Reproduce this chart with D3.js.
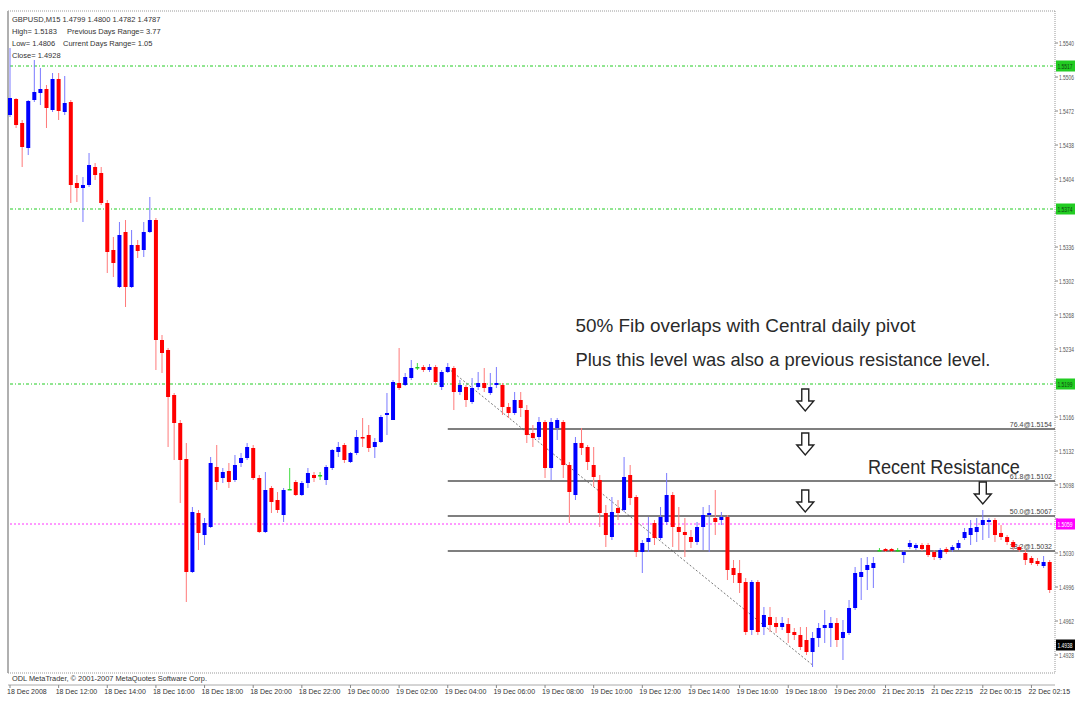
<!DOCTYPE html>
<html>
<head>
<meta charset="utf-8">
<script src="https://cdn.jsdelivr.net/npm/d3@7"></script>
<style>
  body { margin: 0; background: #fff; }
  svg { display: block; }
  text { font-family: "Liberation Sans", Arial, sans-serif; }
</style>
</head>
<body>
<script>
// GBPUSD M15 bars, [open, high, low, close]
const candles = [
  [1.5468,1.5535,1.5466,1.5485],[1.5484,1.5485,1.5455,1.5458],[1.5460,1.5463,1.5416,1.5436],[1.5435,1.5483,1.5428,1.5482],
  [1.5483,1.5523,1.5481,1.5491],[1.5490,1.5515,1.5478,1.5494],[1.5494,1.5498,1.5455,1.5475],[1.5473,1.5510,1.5471,1.5504],
  [1.5504,1.5510,1.5463,1.5472],[1.5471,1.5507,1.5468,1.5480],[1.5481,1.5483,1.5380,1.5398],[1.5400,1.5408,1.5381,1.5395],
  [1.5395,1.5406,1.5361,1.5398],[1.5398,1.5430,1.5396,1.5418],[1.5416,1.5420,1.5403,1.5408],[1.5410,1.5416,1.5378,1.5380],
  [1.5380,1.5383,1.5310,1.5331],[1.5333,1.5346,1.5306,1.5320],[1.5296,1.5361,1.5295,1.5348],[1.5351,1.5363,1.5276,1.5296],
  [1.5296,1.5353,1.5295,1.5338],[1.5338,1.5343,1.5325,1.5332],[1.5333,1.5361,1.5326,1.5351],[1.5351,1.5386,1.5350,1.5363],
  [1.5363,1.5365,1.5213,1.5243],[1.5243,1.5248,1.5210,1.5230],[1.5233,1.5235,1.5136,1.5186],[1.5188,1.5190,1.5123,1.5160],
  [1.5160,1.5163,1.5080,1.5123],[1.5124,1.5140,1.4981,1.5011],[1.5011,1.5076,1.5010,1.5071],[1.5070,1.5073,1.5033,1.5050],
  [1.5048,1.5065,1.5038,1.5060],[1.5056,1.5126,1.5055,1.5120],[1.5116,1.5138,1.5093,1.5101],[1.5105,1.5115,1.5100,1.5111],
  [1.5112,1.5120,1.5095,1.5101],[1.5103,1.5128,1.5101,1.5118],[1.5120,1.5130,1.5116,1.5125],[1.5125,1.5140,1.5123,1.5136],
  [1.5135,1.5138,1.5103,1.5105],[1.5105,1.5108,1.5050,1.5051],[1.5051,1.5111,1.5050,1.5093],[1.5095,1.5097,1.5070,1.5081],
  [1.5083,1.5091,1.5070,1.5073],[1.5068,1.5095,1.5061,1.5093],[1.5094,1.5115,1.5093,1.5094],[1.5101,1.5103,1.5087,1.5088],
  [1.5088,1.5102,1.5087,1.5100],[1.5100,1.5115,1.5095,1.5110],[1.5108,1.5111,1.5101,1.5105],[1.5108,1.5111,1.5103,1.5108],
  [1.5103,1.5118,1.5098,1.5116],[1.5115,1.5134,1.5113,1.5133],[1.5131,1.5141,1.5126,1.5136],[1.5138,1.5140,1.5120,1.5123],
  [1.5121,1.5131,1.5120,1.5130],[1.5130,1.5153,1.5128,1.5146],[1.5146,1.5165,1.5136,1.5145],[1.5148,1.5158,1.5131,1.5135],
  [1.5136,1.5145,1.5125,1.5141],[1.5141,1.5168,1.5140,1.5166],[1.5168,1.5190,1.5148,1.5170],[1.5163,1.5203,1.5163,1.5201],
  [1.5200,1.5235,1.5193,1.5195],[1.5198,1.5210,1.5197,1.5206],[1.5205,1.5223,1.5203,1.5215],[1.5216,1.5220,1.5213,1.5216],
  [1.5216,1.5218,1.5211,1.5213],[1.5213,1.5219,1.5211,1.5216],[1.5216,1.5218,1.5199,1.5201],[1.5196,1.5213,1.5193,1.5211],
  [1.5211,1.5220,1.5210,1.5216],[1.5215,1.5217,1.5173,1.5191],[1.5191,1.5203,1.5188,1.5198],[1.5196,1.5198,1.5176,1.5183],
  [1.5181,1.5205,1.5179,1.5195],[1.5196,1.5211,1.5193,1.5200],[1.5200,1.5215,1.5191,1.5195],[1.5190,1.5210,1.5188,1.5196],
  [1.5198,1.5216,1.5195,1.5200],[1.5198,1.5200,1.5168,1.5176],[1.5176,1.5180,1.5165,1.5170],[1.5170,1.5191,1.5168,1.5183],
  [1.5183,1.5191,1.5166,1.5175],[1.5173,1.5178,1.5140,1.5148],[1.5150,1.5158,1.5136,1.5145],[1.5146,1.5166,1.5143,1.5161],
  [1.5161,1.5163,1.5105,1.5115],[1.5115,1.5165,1.5103,1.5161],[1.5155,1.5165,1.5143,1.5163],[1.5161,1.5163,1.5105,1.5118],
  [1.5118,1.5121,1.5060,1.5091],[1.5088,1.5146,1.5083,1.5140],[1.5140,1.5155,1.5128,1.5135],[1.5136,1.5138,1.5113,1.5121],
  [1.5118,1.5136,1.5096,1.5106],[1.5103,1.5108,1.5056,1.5070],[1.5070,1.5078,1.5036,1.5048],[1.5046,1.5086,1.5043,1.5071],
  [1.5075,1.5083,1.5063,1.5070],[1.5073,1.5126,1.5071,1.5106],[1.5108,1.5118,1.5078,1.5085],[1.5086,1.5088,1.5026,1.5031],
  [1.5031,1.5043,1.5010,1.5040],[1.5041,1.5066,1.5031,1.5045],[1.5060,1.5063,1.5038,1.5045],[1.5045,1.5076,1.5043,1.5066],
  [1.5061,1.5110,1.5058,1.5088],[1.5088,1.5091,1.5036,1.5056],[1.5056,1.5076,1.5033,1.5051],[1.5051,1.5065,1.5026,1.5048],
  [1.5046,1.5053,1.5035,1.5041],[1.5041,1.5061,1.5038,1.5056],[1.5056,1.5076,1.5033,1.5068],[1.5068,1.5078,1.5031,1.5070],
  [1.5065,1.5093,1.5048,1.5061],[1.5063,1.5071,1.5058,1.5066],[1.5066,1.5068,1.5003,1.5013],[1.5015,1.5023,1.5000,1.5008],
  [1.5010,1.5023,1.4990,1.5000],[1.5001,1.5005,1.4948,1.4951],[1.4953,1.5003,1.4948,1.5001],[1.5001,1.5003,1.4948,1.4951],
  [1.4956,1.4976,1.4948,1.4968],[1.4966,1.4976,1.4951,1.4958],[1.4960,1.4966,1.4950,1.4956],[1.4956,1.4966,1.4953,1.4960],
  [1.4959,1.4965,1.4940,1.4950],[1.4951,1.4955,1.4943,1.4948],[1.4948,1.4956,1.4933,1.4936],[1.4943,1.4956,1.4928,1.4931],
  [1.4931,1.4951,1.4916,1.4945],[1.4945,1.4960,1.4936,1.4955],[1.4955,1.4973,1.4940,1.4958],[1.4955,1.4966,1.4936,1.4960],
  [1.4960,1.4965,1.4936,1.4943],[1.4945,1.4963,1.4923,1.4951],[1.4950,1.4983,1.4948,1.4975],[1.4975,1.5016,1.4973,1.5010],
  [1.5006,1.5025,1.4983,1.5011],[1.5013,1.5026,1.4993,1.5018],[1.5015,1.5026,1.4995,1.5020],[1.5033,1.5035,1.5031,1.5033],
  [1.5034,1.5035,1.5031,1.5032],[1.5034,1.5035,1.5031,1.5032],[1.5033,1.5035,1.5031,1.5033],[1.5028,1.5033,1.5020,1.5031],
  [1.5036,1.5043,1.5034,1.5040],[1.5035,1.5040,1.5033,1.5038],[1.5038,1.5040,1.5032,1.5034],[1.5038,1.5040,1.5026,1.5028],
  [1.5031,1.5033,1.5023,1.5026],[1.5025,1.5035,1.5023,1.5033],[1.5034,1.5036,1.5029,1.5031],[1.5033,1.5038,1.5031,1.5036],
  [1.5035,1.5043,1.5033,1.5040],[1.5045,1.5055,1.5043,1.5051],[1.5048,1.5063,1.5038,1.5055],[1.5051,1.5065,1.5041,1.5056],
  [1.5058,1.5073,1.5043,1.5063],[1.5061,1.5065,1.5045,1.5063],[1.5063,1.5065,1.5041,1.5048],[1.5050,1.5058,1.5043,1.5046],
  [1.5046,1.5048,1.5038,1.5041],[1.5041,1.5043,1.5033,1.5036],[1.5036,1.5038,1.5031,1.5033],[1.5030,1.5033,1.5018,1.5023],
  [1.5025,1.5027,1.5018,1.5020],[1.5022,1.5025,1.5017,1.5019],[1.5017,1.5027,1.5015,1.5021],[1.5021,1.5023,1.4990,1.4993]
];

const timeLabels = ["18 Dec 2008","18 Dec 12:00","18 Dec 14:00","18 Dec 16:00","18 Dec 18:00","18 Dec 20:00",
  "18 Dec 22:00","19 Dec 00:00","19 Dec 02:00","19 Dec 04:00","19 Dec 06:00","19 Dec 08:00","19 Dec 10:00",
  "19 Dec 12:00","19 Dec 14:00","19 Dec 16:00","19 Dec 18:00","19 Dec 20:00","21 Dec 20:15","21 Dec 22:15",
  "22 Dec 00:15","22 Dec 02:15"];
const barsPerLabel = 8;

const priceTicks = d3.range(19).map(k => 1.5540 - k * 0.0034);

const pivotLevels = [1.5517, 1.5374, 1.5199];
const centralPivot = 1.5059;
const lastPrice = 1.4938;

const fibLevels = [["76.4", 1.5154], ["61.8", 1.5102], ["50.0", 1.5067], ["38.2", 1.5032]];
const fibStartBar = 72;
const fibTrend = [[72, 1.5215], [132, 1.4918]];

const headerLeft = ["GBPUSD,M15  1.4799 1.4800 1.4782 1.4787", "High= 1.5183", "Low= 1.4806", "Close= 1.4928"];
const headerRight = ["", "Previous Days Range= 3.77", "Current Days Range= 1.05", ""];

const notes = [
  ["50% Fib overlaps with Central daily pivot", 93, 1.5251, 340, 19],
  ["Plus this level was also a previous resistance level.", 93, 1.5217, 415, 19],
  ["Recent Resistance", 141.1, 1.5109, 152, 20]
];
const arrows = [[130.8, 1.5172], [130.8, 1.5128], [130.8, 1.5071], [160, 1.5079]];

const W = 1076, H = 704;
const pL = 8, pR = 1055, pT = 11, pB = 673;

const svg = d3.select("body").append("svg").attr("width", W).attr("height", H);

const x = d3.scaleLinear().domain([0, candles.length - 1]).range([10, 10 + (candles.length - 1) * 6.08]);
const y = d3.scaleLinear().domain([1.4910, 1.5575]).range([673, 8]);

// frame
svg.append("line").attr("x1", pL).attr("x2", pR).attr("y1", pT).attr("y2", pT)
  .attr("stroke", "#999").attr("stroke-dasharray", "1,1");
svg.append("rect").attr("x", 7).attr("y", pT).attr("width", 2).attr("height", pB - pT).attr("fill", "#b0b0b0");
svg.append("line").attr("x1", pR).attr("x2", pR).attr("y1", pT).attr("y2", pB)
  .attr("stroke", "#999").attr("stroke-dasharray", "1,1");
svg.append("line").attr("x1", pL).attr("x2", pR).attr("y1", pB).attr("y2", pB)
  .attr("stroke", "#999").attr("stroke-dasharray", "1,1");
svg.append("line").attr("x1", pL).attr("x2", pR).attr("y1", 685).attr("y2", 685)
  .attr("stroke", "#aaa");

// header text
const hdr = svg.append("g").attr("font-size", 7.5).attr("fill", "#333");
headerLeft.forEach((t, i) => hdr.append("text").attr("x", 12).attr("y", 22 + i * 12).text(t));
headerRight.forEach((t, i) => { if (t) hdr.append("text").attr("x", i === 1 ? 67 : 63).attr("y", 22 + i * 12).text(t); });

// pivot levels
svg.append("g").selectAll("line").data(pivotLevels).join("line")
  .attr("x1", pL + 2).attr("x2", pR).attr("y1", d => y(d)).attr("y2", d => y(d))
  .attr("stroke", "#22cc22").attr("stroke-dasharray", "3,2,1,2");
svg.append("line").attr("x1", pL + 2).attr("x2", pR).attr("y1", y(centralPivot)).attr("y2", y(centralPivot))
  .attr("stroke", "#ff33ff").attr("stroke-dasharray", "2,2");

// fib trend line
svg.append("line")
  .attr("x1", x(fibTrend[0][0])).attr("y1", y(fibTrend[0][1]))
  .attr("x2", x(fibTrend[1][0])).attr("y2", y(fibTrend[1][1]))
  .attr("stroke", "#777").attr("stroke-dasharray", "2,2");

// fib levels
const fib = svg.append("g");
fib.selectAll("line").data(fibLevels).join("line")
  .attr("x1", x(fibStartBar)).attr("x2", pR).attr("y1", d => y(d[1])).attr("y2", d => y(d[1]))
  .attr("stroke", "#555").attr("stroke-width", 1.6);
fib.selectAll("text").data(fibLevels).join("text")
  .attr("x", pR - 3).attr("y", d => y(d[1]) - 2).attr("text-anchor", "end")
  .attr("font-size", 7).attr("fill", "#444")
  .text(d => `${d[0]}@${d[1].toFixed(4)}`);

// candles
const bars = svg.append("g").selectAll("g").data(candles).join("g");
const col = d => d[3] > d[0] ? "#0000ff" : d[3] < d[0] ? "#ff0000" : "#22cc22";
const wickCol = d => d[3] > d[0] ? "#7a7aff" : d[3] < d[0] ? "#ff7a7a" : "#44dd44";
bars.append("line")
  .attr("x1", (d, i) => x(i)).attr("x2", (d, i) => x(i))
  .attr("y1", d => y(d[1])).attr("y2", d => y(d[2]))
  .attr("stroke", wickCol).attr("stroke-width", 1);
bars.append("rect")
  .attr("x", (d, i) => x(i) - 2).attr("width", 4)
  .attr("y", d => y(Math.max(d[0], d[3])))
  .attr("height", d => Math.max(1.5, Math.abs(y(d[0]) - y(d[3]))))
  .attr("fill", col);

// right price axis (tick labels hidden where a price tag covers them)
const tagPrices = pivotLevels.concat([centralPivot, lastPrice]);
const freeTicks = priceTicks.filter(t => tagPrices.every(p => Math.abs(y(p) - y(t)) > 9));
const ax = svg.append("g").attr("font-size", 6.5).attr("fill", "#555");
ax.selectAll("line").data(priceTicks).join("line")
  .attr("x1", pR).attr("x2", pR + 3).attr("y1", d => y(d)).attr("y2", d => y(d)).attr("stroke", "#888");
ax.selectAll("text").data(freeTicks).join("text")
  .attr("x", pR + 4).attr("y", d => y(d) + 2.5)
  .attr("textLength", 15).attr("lengthAdjust", "spacingAndGlyphs")
  .text(d => d.toFixed(4));

function priceTag(p, bg, fg) {
  const g = svg.append("g");
  g.append("rect").attr("x", pR + 1).attr("y", y(p) - 5.5).attr("width", 19).attr("height", 11).attr("fill", bg);
  g.append("text").attr("x", pR + 2.5).attr("y", y(p) + 2.5).attr("font-size", 6.5).attr("fill", fg)
    .attr("textLength", 15).attr("lengthAdjust", "spacingAndGlyphs").text(p.toFixed(4));
}
pivotLevels.forEach(p => priceTag(p, "#22cc22", "#114411"));
priceTag(centralPivot, "#ff00ff", "#ffffff");
priceTag(lastPrice, "#000000", "#ffffff");

// time axis
const tx = svg.append("g").attr("font-size", 7).attr("fill", "#333");
tx.selectAll("line").data(timeLabels).join("line")
  .attr("x1", (d, i) => x(i * barsPerLabel)).attr("x2", (d, i) => x(i * barsPerLabel))
  .attr("y1", 685).attr("y2", 688).attr("stroke", "#888");
tx.selectAll("text").data(timeLabels).join("text")
  .attr("x", (d, i) => x(i * barsPerLabel) - 3).attr("y", 694).text(d => d);

svg.append("text").attr("x", 12).attr("y", 681).attr("font-size", 7).attr("fill", "#333")
  .attr("textLength", 195).attr("lengthAdjust", "spacingAndGlyphs")
  .text("ODL MetaTrader, © 2001-2007 MetaQuotes Software Corp.");

// annotations
svg.append("g").selectAll("text").data(notes).join("text")
  .attr("x", d => x(d[1])).attr("y", d => y(d[2]))
  .attr("font-size", d => d[4]).attr("fill", "#2a2a2a")
  .attr("textLength", d => d[3]).attr("lengthAdjust", "spacingAndGlyphs")
  .text(d => d[0]);

const arrowPath = "M-3.5,-22 L3.5,-22 L3.5,-10 L8.5,-10 L0,0 L-8.5,-10 L-3.5,-10 Z";
svg.append("g").selectAll("path").data(arrows).join("path")
  .attr("transform", d => `translate(${x(d[0])},${y(d[1])})`)
  .attr("d", arrowPath).attr("fill", "#fff").attr("stroke", "#222").attr("stroke-width", 1.4);
</script>
</body>
</html>
